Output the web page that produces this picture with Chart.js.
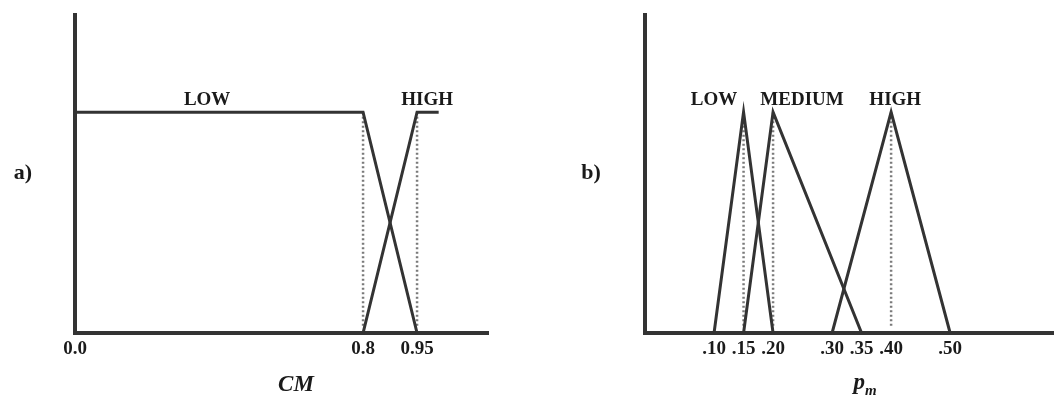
<!DOCTYPE html>
<html>
<head>
<meta charset="utf-8">
<script src="https://cdn.jsdelivr.net/npm/chart.js@4/dist/chart.umd.min.js"></script>
<style>
  body { margin: 0; background: #fff; }
  #wrap { position: relative; width: 1054px; height: 399px; overflow: hidden; }
  canvas { position: absolute; top: 0; }
  .lbl { position: absolute; font-family: "Liberation Serif", serif; font-weight: bold; color: #1a1a1a; transform: translate(-50%, -50%); white-space: nowrap; }
  .panel { font-size: 22px; }
  .axt { font-size: 23px; font-style: italic; }
  .axt sub { font-size: 15px; }
</style>
</head>
<body>
<div id="wrap">
  <canvas id="chartA" width="527" height="399" style="left:0"></canvas>
  <canvas id="chartB" width="527" height="399" style="left:527px"></canvas>
  <div class="lbl panel" style="left:23px; top:172px">a)</div>
  <div class="lbl panel" style="left:591px; top:172px">b)</div>
  <div class="lbl axt" style="left:296px; top:384px">CM</div>
  <div class="lbl axt" style="left:865px; top:384px">p<sub>m</sub></div>
</div>
<script>
// Panel a : CM ====================================
const cmTicks = [0, 0.8, 0.95];
const cmTickLabels = ["0.0", "0.8", "0.95"];
const cmLowX = [0, 0.8, 0.95];
const cmLowY = [1, 1, 0];
const cmHighX = [0.8, 0.95, 1.01];
const cmHighY = [0, 1, 1];
const cmGuides = [0.8, 0.95];
const cmNames = ["LOW", "HIGH"];
const cmNameX = [0.367, 0.978];

// Panel b : pm ====================================
const pmTicks = [0.10, 0.15, 0.20, 0.30, 0.35, 0.40, 0.50];
const pmTickLabels = [".10", ".15", ".20", ".30", ".35", ".40", ".50"];
const pmLowX = [0.10, 0.15, 0.20];
const pmMedX = [0.15, 0.20, 0.35];
const pmHighX = [0.30, 0.40, 0.50];
const triY = [0, 1, 0];
const pmGuides = [0.15, 0.20, 0.40];
const pmNames = ["LOW", "MEDIUM", "HIGH"];
const pmNameX = [0.10, 0.249, 0.407];

const ink = "#333";
const serif = "'Liberation Serif', 'Times New Roman', serif";

const toPoints = (xs, ys) => xs.map((x, i) => ({ x: x, y: ys[i] }));

function solid(xs, ys) {
  return {
    data: toPoints(xs, ys),
    borderColor: ink,
    borderWidth: 3,
    borderJoinStyle: "miter",
    pointRadius: 0,
    tension: 0,
  };
}

function dotted(x) {
  return {
    data: [{ x: x, y: 1 }, { x: x, y: 0.03 }],
    borderColor: "#7a7a7a",
    borderWidth: 2.5,
    borderDash: [2, 2.5],
    pointRadius: 0,
  };
}

// names drawn at data positions through the scales
const namePlugin = {
  id: "names",
  afterDatasetsDraw(chart, args, opts) {
    const ctx = chart.ctx;
    ctx.save();
    ctx.font = "bold 19px " + serif;
    ctx.fillStyle = "#1a1a1a";
    ctx.textAlign = "center";
    ctx.textBaseline = "middle";
    opts.names.forEach((n, i) => {
      ctx.fillText(n, chart.scales.x.getPixelForValue(opts.xs[i]), chart.scales.y.getPixelForValue(opts.y));
    });
    ctx.restore();
  },
};

function makeChart(id, datasets, xMin, xMax, ticks, tickLabels, names, nameXs, padding) {
  return new Chart(document.getElementById(id), {
    type: "line",
    data: { datasets: datasets },
    plugins: [namePlugin],
    options: {
      responsive: false,
      animation: false,
      devicePixelRatio: 1,
      layout: { padding: padding },
      plugins: {
        legend: { display: false },
        tooltip: { enabled: false },
        names: { names: names, xs: nameXs, y: 1.055 },
      },
      scales: {
        x: {
          type: "linear",
          min: xMin,
          max: xMax,
          grid: { display: false, drawTicks: false },
          border: { display: true, color: ink, width: 4 },
          afterBuildTicks: (s) => { s.ticks = ticks.map((v) => ({ value: v })); },
          afterFit: (s) => { s.height = 66; },
          ticks: {
            autoSkip: false,
            maxRotation: 0,
            padding: 5,
            color: "#1a1a1a",
            font: { family: serif, weight: "bold", size: 19 },
            callback: (v, i) => tickLabels[i],
          },
        },
        y: {
          min: 0,
          max: 1.44,
          grid: { display: false, drawTicks: false },
          border: { display: true, color: ink, width: 4 },
          ticks: { display: false },
        },
      },
    },
  });
}

makeChart(
  "chartA",
  [solid(cmLowX, cmLowY), solid(cmHighX, cmHighY)].concat(cmGuides.map(dotted)),
  0, 1.147, cmTicks, cmTickLabels, cmNames, cmNameX,
  { left: 75, top: 15, right: 39, bottom: 0 }
);

makeChart(
  "chartB",
  [solid(pmLowX, triY), solid(pmMedX, triY), solid(pmHighX, triY)].concat(pmGuides.map(dotted)),
  -0.017, 0.676, pmTicks, pmTickLabels, pmNames, pmNameX,
  { left: 118, top: 15, right: 0, bottom: 0 }
);
</script>
</body>
</html>
